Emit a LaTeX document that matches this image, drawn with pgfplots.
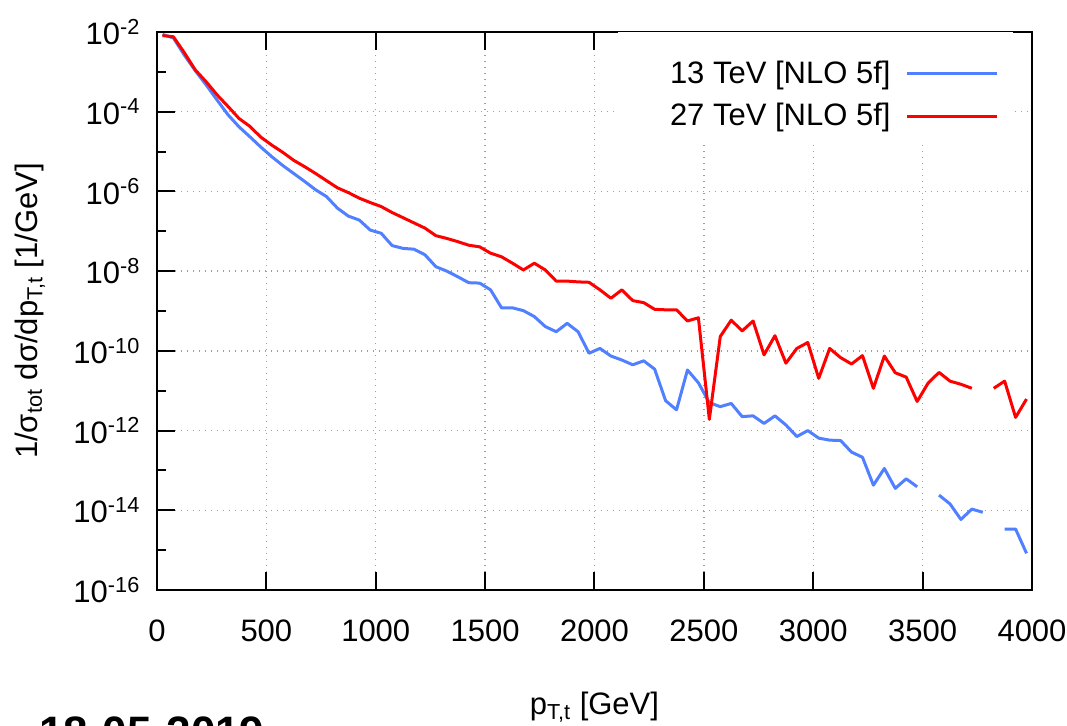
\documentclass[border=0pt]{standalone}
\usepackage{fontspec}
\setmainfont{Liberation Sans}
\usepackage{pgfplots}
\pgfplotsset{compat=1.18}
\definecolor{cblue}{RGB}{80,128,255}
\definecolor{cred}{RGB}{255,0,0}
\newcommand{\fsz}{\fontsize{15.5}{18.6}\selectfont}
\begin{document}
\begin{tikzpicture}
\useasboundingbox (-78.5pt,-68pt) rectangle (455pt,295pt);
\begin{axis}[
  at={(0,0)}, anchor=south west,
  scale only axis, width=437.5pt, height=279pt,
  xmin=0, xmax=4000, ymin=1e-16, ymax=1e-2, ymode=log,
  xtick={0,500,...,4000},
  xticklabels={0,500,1000,1500,2000,2500,3000,3500,4000},
  ytick={1e-16,1e-14,1e-12,1e-10,1e-8,1e-6,1e-4,1e-2},
  yticklabels={10\textsuperscript{-16},10\textsuperscript{-14},10\textsuperscript{-12},10\textsuperscript{-10},10\textsuperscript{-8},10\textsuperscript{-6},10\textsuperscript{-4},10\textsuperscript{-2}},
  minor ytick={1e-15,1e-13,1e-11,1e-9,1e-7,1e-5,1e-3},
  xtick pos=both, ytick pos=left,
  tick align=inside,
  major tick length=9pt, minor tick length=4.5pt,
  tick style={black, line width=1pt},
  axis line style={line width=1pt},
  grid=major,
  major grid style={gray!75, line width=0.7pt, dash pattern=on 0.7pt off 2.3pt},
  tick label style={font=\fsz},
  xticklabel style={yshift=-11.3pt},
  yticklabel style={xshift=-4.8pt},
  xlabel={p\textsubscript{T,t} [GeV]},
  ylabel={1/σ\textsubscript{tot} dσ/dp\textsubscript{T,t} [1/GeV]},
  label style={font=\fsz},
  xlabel style={at={(axis description cs:0.5,-0.2097)}, anchor=center},
  ylabel style={at={(axis description cs:-0.145,0.5)}, anchor=center, rotate=0},
  unbounded coords=jump,
  legend style={draw=none, fill=white, at={(axis description cs:0.9691,0.887)}, anchor=east,
    inner xsep=3pt, inner ysep=2pt, row sep=4.4pt, column sep=5.5pt,
    nodes={inner sep=2pt}, font=\fsz},
  legend plot pos=right,
  legend cell align=right,
  legend image code/.code={\draw[#1] (0pt,0pt) -- (45pt,0pt);},
]
\fill[white] (axis cs:2107,1e-2) rectangle (axis cs:3913,2e-5);
\addplot[cblue, line width=1.5pt, line join=round] coordinates {
(25,8.71e-3)(75,7.08e-3)(125,2.63e-3)(175,1.07e-3)(225,4.68e-4)(275,1.95e-4)(325,8.32e-5)(375,4.17e-5)(425,2.34e-5)(475,1.29e-5)
(525,7.41e-6)(575,4.47e-6)(625,2.82e-6)(675,1.78e-6)(725,1.10e-6)(775,7.41e-7)(825,3.80e-7)(875,2.40e-7)(925,1.91e-7)(975,1.07e-7)
(1025,8.91e-8)(1075,4.37e-8)(1125,3.72e-8)(1175,3.55e-8)(1225,2.57e-8)(1275,1.29e-8)(1325,1.0e-8)(1375,7.24e-9)(1425,5.13e-9)(1475,5.01e-9)
(1525,3.39e-9)(1575,1.20e-9)(1625,1.20e-9)(1675,1.02e-9)(1725,7.24e-10)(1775,4.07e-10)(1825,3.02e-10)(1875,4.90e-10)(1925,3.02e-10)(1975,8.71e-11)
(2025,1.15e-10)(2075,7.41e-11)(2125,5.89e-11)(2175,4.47e-11)(2225,5.62e-11)(2275,3.47e-11)(2325,5.62e-12)(2375,3.31e-12)(2425,3.31e-11)(2475,1.58e-11)
(2525,5.01e-12)(2575,3.98e-12)(2625,4.79e-12)(2675,2.24e-12)(2725,2.34e-12)(2775,1.51e-12)(2825,2.34e-12)(2875,1.38e-12)(2925,7.08e-13)(2975,1.0e-12)
(3025,6.46e-13)(3075,5.75e-13)(3125,5.62e-13)(3175,2.88e-13)(3225,2.14e-13)(3275,4.27e-14)(3325,1.12e-13)(3375,3.55e-14)(3425,6.17e-14)(3475,3.89e-14)
(3525,nan)(3575,2.40e-14)(3625,1.45e-14)(3675,5.89e-15)(3725,1.07e-14)(3775,8.91e-15)(3825,nan)(3875,3.39e-15)(3925,3.39e-15)(3975,8.32e-16)
};
\addlegendentry{13 TeV [NLO 5f]}
\addplot[cred, line width=1.5pt, line join=round] coordinates {
(25,8.13e-3)(75,7.59e-3)(125,3.02e-3)(175,1.12e-3)(225,5.62e-4)(275,2.63e-4)(325,1.35e-4)(375,6.76e-5)(425,4.27e-5)(475,2.29e-5)
(525,1.45e-5)(575,9.55e-6)(625,6.03e-6)(675,4.17e-6)(725,2.82e-6)(775,1.86e-6)(825,1.23e-6)(875,9.33e-7)(925,6.76e-7)(975,5.25e-7)
(1025,4.17e-7)(1075,2.95e-7)(1125,2.19e-7)(1175,1.62e-7)(1225,1.20e-7)(1275,7.76e-8)(1325,6.61e-8)(1375,5.50e-8)(1425,4.47e-8)(1475,4.07e-8)
(1525,2.82e-8)(1575,2.29e-8)(1625,1.58e-8)(1675,1.07e-8)(1725,1.58e-8)(1775,1.07e-8)(1825,5.62e-9)(1875,5.62e-9)(1925,5.37e-9)(1975,5.25e-9)
(2025,3.39e-9)(2075,2.09e-9)(2125,3.39e-9)(2175,1.82e-9)(2225,1.62e-9)(2275,1.10e-9)(2325,1.07e-9)(2375,1.07e-9)(2425,5.62e-10)(2475,6.76e-10)
(2525,1.91e-12)(2575,2.29e-10)(2625,5.89e-10)(2675,3.16e-10)(2725,5.62e-10)(2775,7.94e-11)(2825,2.40e-10)(2875,4.90e-11)(2925,1.15e-10)(2975,1.62e-10)
(3025,2.04e-11)(3075,1.15e-10)(3125,6.76e-11)(3175,4.68e-11)(3225,7.59e-11)(3275,1.15e-11)(3325,7.41e-11)(3375,2.82e-11)(3425,2.19e-11)(3475,5.37e-12)
(3525,1.55e-11)(3575,2.88e-11)(3625,1.74e-11)(3675,1.45e-11)(3725,1.15e-11)(3775,nan)(3825,1.15e-11)(3875,1.74e-11)(3925,2.14e-12)(3975,6.17e-12)
};
\addlegendentry{27 TeV [NLO 5f]}
\end{axis}
\node[anchor=base west, inner sep=0pt, font=\bfseries\fontsize{22}{26}\selectfont] at (-59pt,-78.75pt) {18-05-2019};
\end{tikzpicture}
\end{document}
